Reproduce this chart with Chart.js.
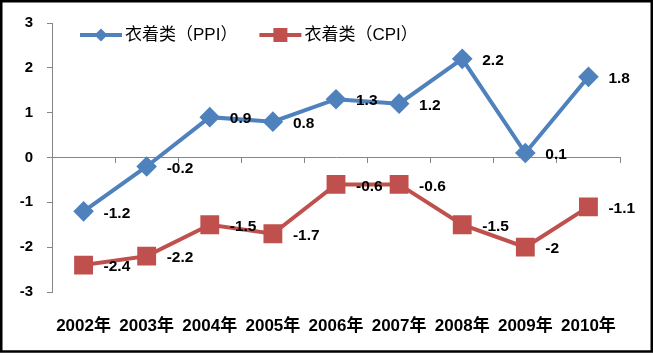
<!DOCTYPE html>
<html><head><meta charset="utf-8">
<script src="https://cdn.jsdelivr.net/npm/chart.js@4"></script>
<style>html,body{margin:0;padding:0;background:#fff}canvas{display:block}</style>
</head><body>
<canvas id="c" width="653" height="356"></canvas>
<script>
const categories = ['2002年','2003年','2004年','2005年','2006年','2007年','2008年','2009年','2010年'];
const ppiValues = [-1.2, -0.2, 0.9, 0.8, 1.3, 1.2, 2.2, 0.1, 1.8];
const cpiValues = [-2.4, -2.2, -1.5, -1.7, -0.6, -0.6, -1.5, -2, -1.1];
const seriesNames = ['衣着类（PPI）', '衣着类（CPI）'];
const yTicks = [-3, -2, -1, 0, 1, 2, 3];

const BLUE = '#4F81BD', RED = '#C0504D', AXIS = '#868686';
const FONT = "'Liberation Sans', 'Noto Sans CJK SC', sans-serif";

const framePlugin = {
  id: 'frame',
  beforeDraw(chart) {
    const ctx = chart.ctx;
    ctx.save(); ctx.fillStyle = '#fff'; ctx.fillRect(0, 0, chart.width, chart.height); ctx.restore();
  },
  afterDraw(chart) {
    const ctx = chart.ctx;
    ctx.save();
    ctx.strokeStyle = '#000'; ctx.lineWidth = 2.5;
    ctx.strokeRect(1.25, 1.25, 650.5, 350.25);
    ctx.restore();
  }
};

const labelPlugin = {
  id: 'valueLabels',
  afterDatasetsDraw(chart) {
    const ctx = chart.ctx;
    ctx.save();
    ctx.font = 'bold 15.5px ' + FONT;
    ctx.fillStyle = '#000';
    ctx.textAlign = 'left';
    ctx.textBaseline = 'middle';
    chart.data.datasets.forEach((ds, di) => {
      const meta = chart.getDatasetMeta(di);
      meta.data.forEach((pt, i) => {
        ctx.fillText(String(ds.data[i]), pt.x + 20, pt.y + 2);
      });
    });
    ctx.restore();
  }
};

const legendPlugin = {
  id: 'customLegend',
  afterDraw(chart) {
    const ctx = chart.ctx;
    ctx.save();
    ctx.font = '17px ' + FONT;
    ctx.textBaseline = 'middle';
    ctx.textAlign = 'left';
    let x = 80; const y = 35;
    chart.data.datasets.forEach((ds) => {
      ctx.strokeStyle = ds.borderColor; ctx.lineWidth = 4;
      ctx.beginPath(); ctx.moveTo(x, y); ctx.lineTo(x + 42, y); ctx.stroke();
      ctx.fillStyle = ds.pointBackgroundColor;
      ctx.beginPath();
      if (ds.pointStyle === 'rect') {
        const s = 7; ctx.rect(x + 21 - s, y - s, 2 * s, 2 * s);
      } else {
        const r = 6.5; ctx.moveTo(x + 21, y - r); ctx.lineTo(x + 21 + r, y); ctx.lineTo(x + 21, y + r); ctx.lineTo(x + 21 - r, y); ctx.closePath();
      }
      ctx.fill();
      ctx.fillStyle = '#000';
      ctx.fillText(ds.label, x + 45, y);
      x += 45 + ctx.measureText(ds.label).width + 22;
    });
    ctx.restore();
  }
};

new Chart(document.getElementById('c'), {
  type: 'line',
  data: {
    labels: categories,
    datasets: [
      { label: seriesNames[0], data: ppiValues, borderColor: BLUE, backgroundColor: BLUE,
        pointBackgroundColor: BLUE, pointBorderColor: BLUE, pointStyle: 'rectRot', pointRadius: 7.5,
        borderWidth: 4, tension: 0, xAxisID: 'x', yAxisID: 'y' },
      { label: seriesNames[1], data: cpiValues, borderColor: RED, backgroundColor: RED,
        pointBackgroundColor: RED, pointBorderColor: RED, pointStyle: 'rect', pointRadius: 10.5,
        borderWidth: 4, tension: 0, xAxisID: 'x', yAxisID: 'y' }
    ]
  },
  options: {
    responsive: false,
    animation: false,
    layout: { padding: { top: 23, right: 33, left: 0, bottom: 0 } },
    plugins: { legend: { display: false }, tooltip: { enabled: false } },
    scales: {
      y: {
        min: -3, max: 3,
        afterBuildTicks: (s) => { s.ticks = yTicks.map(v => ({ value: v })); },
        afterFit: (s) => { s.width = 52; },
        grid: { display: true, drawOnChartArea: false, drawTicks: true, tickLength: 5, color: AXIS },
        border: { display: true, color: AXIS, width: 1 },
        ticks: { color: '#000', padding: 14, font: { family: FONT, size: 15, weight: 'bold' } }
      },
      x: {
        type: 'category', position: { y: 0 }, offset: true,
        grid: { display: true, drawOnChartArea: false, drawTicks: true, tickLength: 5, color: AXIS, offset: true },
        border: { display: true, color: AXIS, width: 1 },
        ticks: { display: false },
        afterFit: (s) => { s.height = 0; }
      },
      x2: {
        type: 'category', position: 'bottom', offset: true, labels: categories,
        grid: { display: false }, border: { display: false },
        ticks: { color: '#000', padding: 16, maxRotation: 0, autoSkip: false, font: { family: FONT, size: 17, weight: 'bold' } },
        afterFit: (s) => { s.height = 64; }
      }
    }
  },
  plugins: [framePlugin, labelPlugin, legendPlugin]
});
</script>
</body></html>
